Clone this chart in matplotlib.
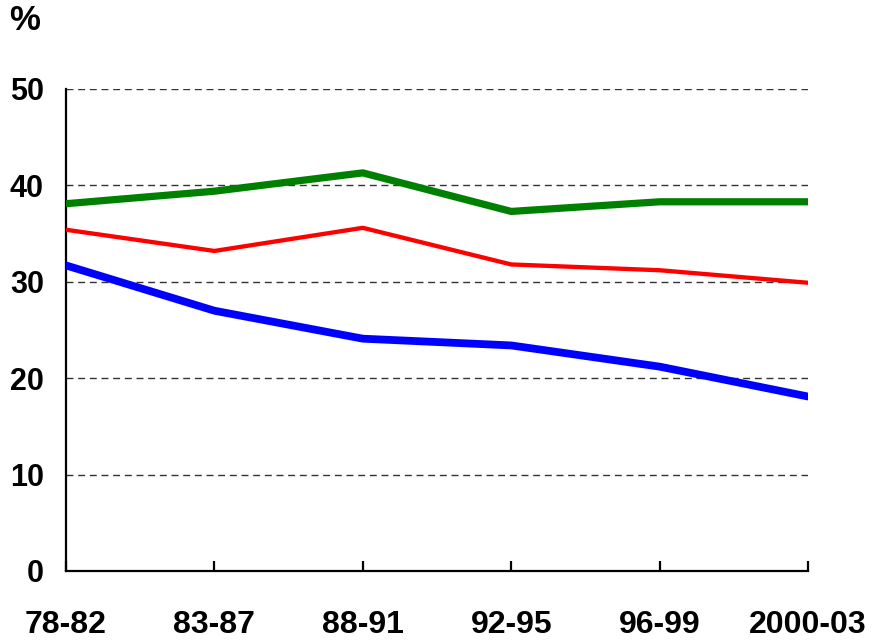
import matplotlib.pyplot as plt
from matplotlib import font_manager

periods = ['78-82', '83-87', '88-91', '92-95', '96-99', '2000-03']
green = [38.1, 39.4, 41.3, 37.3, 38.3, 38.3]
red = [35.4, 33.2, 35.6, 31.8, 31.2, 29.9]
blue = [31.7, 27.0, 24.1, 23.4, 21.2, 18.1]
yticks = [0, 10, 20, 30, 40, 50]

names = {f.name for f in font_manager.fontManager.ttflist}
family = 'Liberation Sans Narrow' if 'Liberation Sans Narrow' in names else 'Liberation Sans'
plt.rcParams['font.family'] = [family, 'DejaVu Sans']

fig = plt.figure(figsize=(8.74, 6.4), dpi=100)
ax = fig.add_axes([66 / 874, 69 / 640, 742 / 874, 482 / 640])

x = range(len(periods))
ax.plot(x, green, color='#008000', lw=5.2, solid_capstyle='round', zorder=3)
ax.plot(x, red, color='#ff0000', lw=3.1, solid_capstyle='round', zorder=3)
ax.plot(x, blue, color='#0000ff', lw=5.6, solid_capstyle='round', zorder=3)

ax.set_xlim(0, len(periods) - 1)
ax.set_ylim(0, 50)
ax.set_yticks(yticks)
ax.set_xticks(list(x))
ax.set_xticklabels(periods)

for y in yticks[1:]:
    ax.axhline(y, color='#333333', lw=1, dashes=(5, 3.4), zorder=1)

for s in ('top', 'right'):
    ax.spines[s].set_visible(False)
for s in ('left', 'bottom'):
    ax.spines[s].set_linewidth(1.6)
    ax.spines[s].set_color('black')

ax.tick_params(axis='x', direction='in', length=7, width=1.6, pad=28,
               labelsize=23)
ax.tick_params(axis='y', length=0, pad=16, labelsize=22)
for lbl in ax.get_xticklabels() + ax.get_yticklabels():
    lbl.set_fontweight('bold')

fig.text(25 / 874, 1 - 21 / 640, '%', ha='center', va='center',
         fontsize=25, fontweight='bold')

fig.savefig('out.png', dpi=100)
